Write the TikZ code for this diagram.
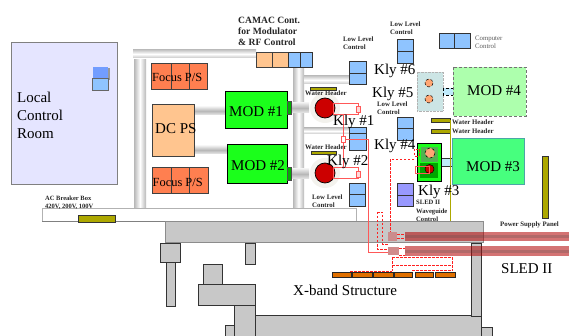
\documentclass[tikz,border=0pt]{standalone}
\usepackage{fontspec}
\setmainfont{Liberation Serif}
\definecolor{bluebox}{HTML}{8FC4FF}
\definecolor{orangebox}{HTML}{FFC58F}
\definecolor{focusbox}{HTML}{FF7F50}
\definecolor{modgreen}{HTML}{1BFF1B}
\definecolor{olivebox}{HTML}{ADA800}
\definecolor{beam}{HTML}{C8C8C8}
\definecolor{xband}{HTML}{E07000}
\definecolor{wred}{HTML}{FF2020}
\tikzset{
  big/.style={font=\fontsize{15}{15}\selectfont,inner sep=0pt,anchor=west},
  tiny/.style={font=\fontsize{6.8}{8}\selectfont\bfseries,inner sep=0pt,anchor=west,align=left,text=black!85},
  graytxt/.style={font=\fontsize{6.8}{8}\selectfont,inner sep=0pt,anchor=west,align=left,text=black!65},
  bluecell/.style={fill=bluebox,draw=black!80,line width=.7pt},
  purplecell/.style={fill=blue!40,draw=black!80,line width=.7pt},
  focuscell/.style={fill=focusbox,draw=black!75,line width=.6pt},
  orangecell/.style={fill=orangebox,draw=black!75,line width=.6pt},
  hconduit/.style={top color=black!22,bottom color=black!22,middle color=white,draw=none},
  vconduit/.style={left color=black!28,right color=black!28,middle color=white,draw=none},
  hpipe/.style={top color=black!8,bottom color=black!8,middle color=black!28,draw=none},
  beamrect/.style={fill=beam,draw=black!80,line width=.7pt},
  olive/.style={fill=olivebox,draw=black!80,line width=.6pt},
  xcell/.style={fill=xband,draw=black!85,line width=.6pt},
  redsolid/.style={draw=wred!75,line width=.6pt},
  reddash/.style={draw=wred,line width=.6pt,dash pattern=on 2.5pt off 1.5pt},
  guide/.style={fill=red!70!black,fill opacity=.55,draw=none},
  guidecore/.style={fill=black!70,fill opacity=.25,draw=none},
}
\begin{document}
\begin{tikzpicture}[x=1pt,y=-1pt]
\useasboundingbox (0,0) rectangle (569,336);
\fill[white] (0,0) rectangle (569,336);
% control room
\draw[fill=blue!10,draw=black!50,line width=1pt] (11,43) rectangle (117,185);
\fill[black!40] (94,68) rectangle (110,80);
\fill[bluebox!80!blue] (93,67) rectangle (108,78);
\draw[bluecell,draw=black!60] (92,78) rectangle (108,90);
\node[big,align=left,font=\fontsize{15}{18}\selectfont] (room) at (17,115) {Local\\Control\\Room};
% conduits
\draw[vconduit] (134,60) rectangle (146,210);
\draw[hconduit] (133,50) rectangle (256,58);
\draw[vconduit] (293,67) rectangle (304,210);
\draw[hconduit] (304,76) rectangle (352,84);
\draw[hconduit] (304,128) rectangle (350,134);
\draw[hpipe] (194,107) rectangle (227,115);
\draw[hpipe] (194,146) rectangle (228,154);
\draw[hpipe] (291,103) rectangle (309,113);
\draw[hpipe] (291,169) rectangle (309,179);
% AC band
\draw[fill=white,draw=black!30,line width=1pt] (42,209) -- (356,209) -- (356,222) -- (42,222) -- cycle;
\draw[black!50,line width=1pt] (42,222) -- (356,222);
\draw[olive] (78,215) rectangle (115,222);
% CAMAC
\draw[orangecell] (256,52) rectangle (272,67);
\draw[orangecell] (272,52) rectangle (288,67);
\draw[bluecell] (288,52) rectangle (300,67);
\draw[bluecell] (300,52) rectangle (312,67);
% focus
\foreach \a/\b in {151/171,171/189,189/207}{\draw[focuscell] (\a,63) rectangle (\b,89);}
\foreach \a/\b in {152/171,171/189,189/208}{\draw[focuscell] (\a,167) rectangle (\b,193);}
\node[big,font=\fontsize{12.4}{12}\selectfont] (f1) at (152,77) {Focus P/S};
\node[big,font=\fontsize{12.4}{12}\selectfont] (f2) at (152.5,182) {Focus P/S};
% DC PS
\draw[orangecell,line width=.8pt] (152,104) rectangle (194,156);
\node[big] (dc) at (155,129) {DC PS};
% MODs
\draw[fill=modgreen,draw=black,line width=.7pt] (225,91) rectangle (287,128);
\draw[fill=modgreen,draw=black,line width=.7pt] (227,144) rectangle (287,183);
\node[big] (m1) at (229,112) {MOD \#1};
\node[big] (m2) at (231,166) {MOD \#2};
\draw[fill=green!70!black,draw=black!70] (287,101) rectangle (291,114);
\draw[fill=green!70!black,draw=black!70] (287,167) rectangle (291,180);
% klystrons
\fill[yellow!30!black!8] (325,108) circle (15);
\fill[yellow!30!black!8] (325,173) circle (15);
\draw[fill=red!80!black,draw=black,line width=.7pt] (325,108) circle (10);
\draw[fill=red!80!black,draw=black,line width=.7pt] (325,173) circle (10);
% water headers
\draw[olive] (310,87) rectangle (336,90);
\draw[olive] (311,151) rectangle (336,154);
\draw[olive] (431,118) rectangle (450,122);
\draw[olive] (431,129) rectangle (450,133);
\node[tiny] (w1) at (305,93) {Water Header};
\node[tiny] (w2) at (305,147) {Water Header};
\node[tiny] (w3) at (452,122.5) {Water Header};
\node[tiny] (w4) at (452,131.5) {Water Header};
% LLC blocks
\draw[bluecell] (349,61) rectangle (366,73);
\draw[bluecell] (349,73) rectangle (366,84);
\draw[bluecell] (349,127) rectangle (366,133);
\draw[bluecell] (349,133) rectangle (366,139);
\draw[bluecell] (349,139) rectangle (366,150);
\draw[bluecell] (397,39) rectangle (413,51);
\draw[bluecell] (397,51) rectangle (413,63);
\draw[bluecell] (397,117) rectangle (413,128);
\draw[bluecell] (397,128) rectangle (413,140);
\draw[bluecell] (349,183) rectangle (365,194);
\draw[bluecell] (349,194) rectangle (365,206);
\draw[purplecell] (397,183) rectangle (413,195);
\draw[purplecell] (397,195) rectangle (413,206);
\draw[bluecell] (439,33) rectangle (454,48);
\draw[bluecell] (454,33) rectangle (470,48);
% MOD 4 area
\draw[fill=teal!20,draw=black!30,densely dotted] (417,72) rectangle (443,111);
\draw[fill=orange!40!pink,draw=black,densely dashed,line width=.5pt] (429,83) circle (4);
\draw[fill=orange!40!pink,draw=black,densely dashed,line width=.5pt] (429,99) circle (4);
\draw[fill=cyan!25,draw=black,densely dashed,line width=.5pt] (443,88) rectangle (454,95);
\draw[fill=green!32,draw=black!55,line width=.9pt,densely dashed] (453,67) rectangle (526,116);
\node[big] (m4) at (467,91) {MOD \#4};
% MOD 3
\draw[fill=cyan!25,draw=black!80,line width=.5pt] (441,158) rectangle (453,166);
\draw[olivebox,line width=.8pt] (450.5,120) -- (450.5,225);
\draw[fill=green!70!cyan!72,draw=teal!70,line width=.9pt] (452,138) rectangle (524,184);
\node[big] (m3) at (466,167) {MOD \#3};
% Kly 3/4
\draw[fill=modgreen,draw=black,line width=.8pt] (417,143) rectangle (441,181);
\fill[green!65!black] (420,163) rectangle (438,178);
\fill[white!45!green!70!black] (421,147) rectangle (438,162);
\draw[fill=orange!40!pink,draw=black,densely dashed,line width=.5pt] (430,153) circle (5);
\draw[fill=red!80!black,draw=black,line width=.5pt] (429.5,169) circle (4.5);
% panel
\draw[olive,line width=.8pt] (542,156) rectangle (548,218);
% beam structures
\draw[beamrect,draw=black!45,line width=1pt] (165,222) rectangle (483,243);
\draw[beamrect] (160,243) rectangle (180,262);
\draw[beamrect] (166,262) rectangle (175,306);
\draw[beamrect] (245,243) rectangle (255,264);
\draw[beamrect] (203,264) rectangle (222,284);
\draw[beamrect] (198,284) rectangle (255,305);
\draw[beamrect] (225,325) rectangle (234,336);
\draw[beamrect] (234,305) rectangle (255,336);
\draw[beamrect] (255,315) rectangle (481,336);
\draw[beamrect] (471,243) rectangle (481,316);
\draw[beamrect] (481,327) rectangle (492,336);
% red wiring
\draw[redsolid] (333,103) rectangle (358,114);
\draw[redsolid] (333,167) rectangle (358,178);
\draw[redsolid] (343,114) -- (343,168);
\draw[redsolid] (343,139) -- (368,139) -- (368,252) -- (388,252);
\draw[redsolid] (415,166) rectangle (429,173);
\draw[redsolid,fill=red!15] (356,106) rectangle (360,112);
\draw[redsolid,fill=red!15] (356,171) rectangle (360,177);
\draw[redsolid,fill=white] (341,136) rectangle (345,142);
\draw[reddash] (414,149) rectangle (419,156);
\draw[reddash] (414,159) -- (390.5,159) -- (390.5,233);
\draw[reddash] (377,212) -- (382,212) -- (382,244) -- (388,244);
\draw[reddash] (377,212) -- (377,249) -- (388,249);
\draw[reddash] (397,234) -- (405,234);
\draw[reddash] (397,238) -- (405,238);
\draw[reddash] (399,248) -- (405,248);
\draw[reddash] (399,255) -- (405,255);
\draw[reddash] (392,257) -- (452,257) -- (452,271);
\draw[reddash] (392,265) -- (452,265);
\draw[reddash] (392,257) -- (392,271);
\draw[reddash] (350,271) -- (392,271);
\draw[reddash] (412,270.5) -- (452,270.5);
% x-band
\foreach \a/\b in {332/351,352/372,373/393,394/412,415/433,435/455}{\draw[xcell] (\a,272.5) rectangle (\b,277);}
\fill[black!45!red!45] (388,232) rectangle (397,241);
\fill[red!60!black!45] (388,247) rectangle (399,255);
% waveguides
\fill[guide] (405,232) rectangle (569,241);
\fill[guidecore] (405,235) rectangle (569,238);
\fill[guide] (405,246) rectangle (569,256);
\fill[guidecore] (405,249.5) rectangle (569,252.5);
% labels
\node[font=\fontsize{9.6}{11}\selectfont\bfseries,inner sep=0pt,anchor=west,align=left,text=black!85] (camac) at (238,31) {CAMAC Cont.\\for Modulator\\\& RF Control};
\node[big] (k1) at (333,122) {Kly \#1};
\node[big] (k2) at (327,162) {Kly \#2};
\node[big] (k3) at (418,192) {Kly \#3};
\node[big] (k4) at (374,146) {Kly \#4};
\node[big] (k5) at (372,94) {Kly \#5};
\node[big] (k6) at (374,71) {Kly \#6};
\node[tiny] (l1) at (343,43) {Low Level\\Control};
\node[tiny] (l2) at (390,28) {Low Level\\Control};
\node[tiny] (l3) at (377,108) {Low Level\\Control};
\node[tiny] (l4) at (312,201) {Low Level\\Control};
\node[graytxt] (cc) at (475,42) {Computer\\Control};
\node[tiny,font=\fontsize{6.6}{8.2}\selectfont\bfseries] (sl) at (416,211) {SLED II\\Waveguide\\Control};
\node[tiny,font=\fontsize{6.5}{8}\selectfont\bfseries] (ac) at (45,203) {AC Breaker Box\\420V, 200V, 100V};
\node[tiny] (ps) at (500,225) {Power Supply Panel};
\node[big] (sled) at (501,269) {SLED II};
\node[big] (xb) at (293,290) {X-band Structure};
\end{tikzpicture}
\end{document}
